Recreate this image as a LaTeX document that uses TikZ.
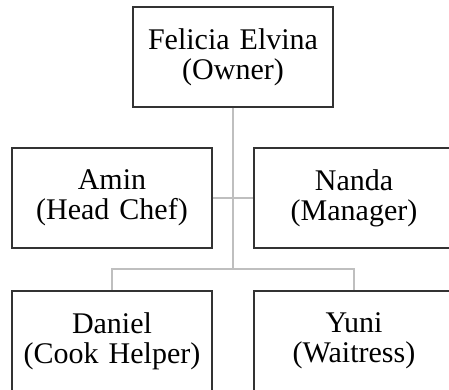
\documentclass[tikz,border=0pt]{standalone}
\usepackage{fontspec}
\setmainfont{Liberation Serif}
\tikzstyle{person} = [rectangle, draw=black!80, line width=1.5pt, text width=190pt, align=center, minimum width=200pt, minimum height=100pt, inner sep=0pt, font=\fontsize{30}{30}\selectfont]
\tikzstyle{link} = [draw=black!25, line width=1.5pt]

\begin{document}
\begin{tikzpicture}[x=1pt, y=-1pt]
            \useasboundingbox (0,0) rectangle (449,389);
            \clip (0,0) rectangle (449,389);

            % vertices
            \node[person] (owner) at (233 , 57) {Felicia Elvina\\(Owner)};
            \node[person] (chef) at (112 , 198) {Amin\\(Head Chef)};
            \node[person] (manager) at (354 , 198) {Nanda\\(Manager)};
            \node[person] (helper) at (112 , 341) {Daniel\\(Cook Helper)};
            \node[person] (waitress) at (354 , 341) {Yuni\\(Waitress)};
            \coordinate (split) at (233 , 269);

            %edges
            \draw[link] (owner) -- (split);
            \draw[link] (chef.east) -- (manager.west);
            \draw[link] (split) -| (helper.north);
            \draw[link] (split) -| (waitress.north);

          \end{tikzpicture}
\end{document}
